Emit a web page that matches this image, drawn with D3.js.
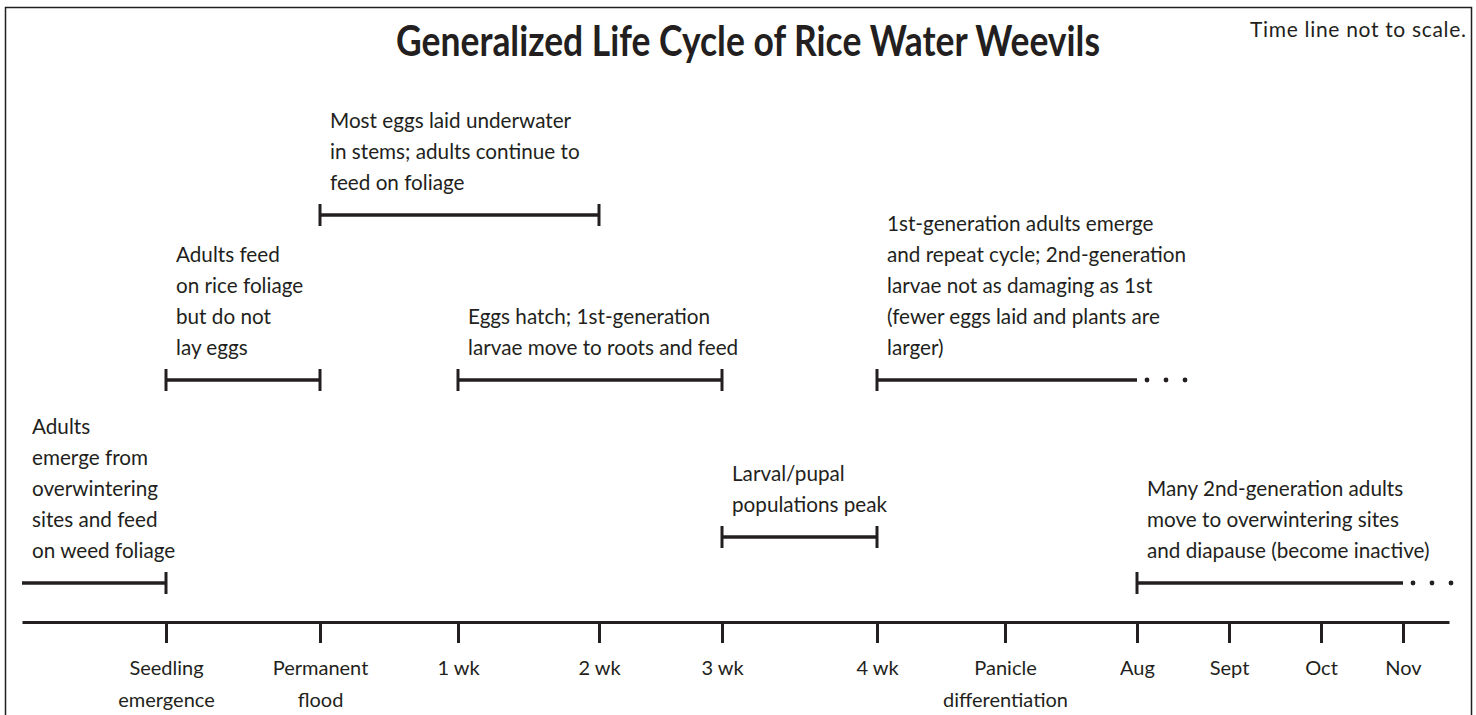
<!DOCTYPE html>
<html>
<head>
<meta charset="utf-8">
<script src="https://cdn.jsdelivr.net/npm/d3@7"></script>
<style>
  body { margin: 0; background: #fff; }
  svg text { font-family: Lato, "Open Sans", sans-serif; fill: #231f20; }
</style>
</head>
<body>
<div id="chart"></div>
<script>
// ---- data ----
const title = 'Generalized Life Cycle of Rice Water Weevils'
const scaleNote = 'Time line not to scale.'

// time line ticks (not to scale), index = position on the time line
const tickLabels = [
  'Seedling\nemergence', 'Permanent\nflood', '1 wk', '2 wk', '3 wk', '4 wk',
  'Panicle\ndifferentiation', 'Aug', 'Sept', 'Oct', 'Nov'
]

// life stages: start/end on the tick index, lane = which row it sits in
const stageStart = [-1, 0, 1, 2, 4, 5, 7]
const stageEnd = [0, 1, 3, 4, 5, 7, 10]
const stageLane = ['bottom', 'mid', 'top', 'mid', 'low', 'mid', 'bottom']
const stageOngoing = [false, false, false, false, false, true, true]
const stageText = [
  ['Adults', 'emerge from', 'overwintering', 'sites and feed', 'on weed foliage'],
  ['Adults feed', 'on rice foliage', 'but do not', 'lay eggs'],
  ['Most eggs laid underwater', 'in stems; adults continue to', 'feed on foliage'],
  ['Eggs hatch; 1st-generation', 'larvae move to roots and feed'],
  ['Larval/pupal', 'populations peak'],
  ['1st-generation adults emerge', 'and repeat cycle; 2nd-generation',
    'larvae not as damaging as 1st', '(fewer eggs laid and plants are', 'larger)'],
  ['Many 2nd-generation adults', 'move to overwintering sites',
    'and diapause (become inactive)']
]

// ---- layout ----
const width = 1476
const height = 715
const ink = '#231f20'
const lineH = 31

const svg = d3.select('#chart')
  .append('svg')
  .attr('width', width)
  .attr('height', height)

// frame
svg.append('rect')
  .attr('x', 5.5)
  .attr('y', 7.5)
  .attr('width', 1466)
  .attr('height', 730)
  .attr('fill', 'none')
  .attr('stroke', ink)
  .attr('stroke-width', 1.5)

// x: piecewise scale because the time line is not to scale
const x = d3.scaleLinear()
  .domain([-1, 0, 1, 2, 3, 4, 5, 6, 7, 8, 9, 10, 11])
  .range([22, 166, 320, 458, 599, 722, 877, 1005, 1137, 1229, 1321, 1403, 1449])

const y = d3.scaleOrdinal()
  .domain(['top', 'mid', 'low', 'bottom'])
  .range([215, 380, 537, 583])

const axisY = 622

// title + note
svg.append('text')
  .attr('x', 748)
  .attr('y', 56)
  .attr('text-anchor', 'middle')
  .attr('font-size', 42)
  .attr('font-weight', 700)
  .attr('textLength', 704)
  .attr('lengthAdjust', 'spacingAndGlyphs')
  .text(title)

svg.append('text')
  .attr('x', 1466)
  .attr('y', 37)
  .attr('text-anchor', 'end')
  .attr('font-size', 21)
  .attr('textLength', 216)
  .attr('lengthAdjust', 'spacing')
  .text(scaleNote)

// axis
const axis = d3.axisBottom(x)
  .tickValues(d3.range(tickLabels.length))
  .tickSize(21)
  .tickSizeOuter(0)
  .tickFormat(i => tickLabels[i])

const gAxis = svg.append('g')
  .attr('transform', 'translate(0,' + axisY + ')')
  .call(axis)

gAxis.select('.domain')
  .attr('stroke', ink)
  .attr('stroke-width', 3)
gAxis.selectAll('.tick line')
  .attr('stroke', ink)
  .attr('stroke-width', 3)
gAxis.selectAll('.tick text')
  .attr('font-size', 20)
  .attr('fill', ink)
  .attr('y', 53)
  .attr('dy', null)
  .each(function (i) {
    const t = d3.select(this)
    const parts = tickLabels[i].split('\n')
    t.text(null)
    parts.forEach((p, k) => {
      t.append('tspan')
        .attr('x', 0)
        .attr('dy', k === 0 ? 0 : 32)
        .text(p)
    })
  })

// stage bars
const stages = stageStart.map((s, i) => ({
  start: s,
  end: stageEnd[i],
  lane: stageLane[i],
  ongoing: stageOngoing[i],
  text: stageText[i]
}))

const g = svg.selectAll('g.stage')
  .data(stages)
  .enter()
  .append('g')
  .attr('class', 'stage')

g.append('line')
  .attr('x1', d => x(d.start))
  .attr('x2', d => x(d.end))
  .attr('y1', d => y(d.lane))
  .attr('y2', d => y(d.lane))
  .attr('stroke', ink)
  .attr('stroke-width', 3.5)

// end caps (first stage runs in from the left edge, so no left cap)
g.filter(d => d.start >= 0)
  .append('line')
  .attr('x1', d => x(d.start))
  .attr('x2', d => x(d.start))
  .attr('y1', d => y(d.lane) - 11)
  .attr('y2', d => y(d.lane) + 11)
  .attr('stroke', ink)
  .attr('stroke-width', 3)

g.filter(d => !d.ongoing)
  .append('line')
  .attr('x1', d => x(d.end))
  .attr('x2', d => x(d.end))
  .attr('y1', d => y(d.lane) - 11)
  .attr('y2', d => y(d.lane) + 11)
  .attr('stroke', ink)
  .attr('stroke-width', 3)

// dots for stages that carry on
g.filter(d => d.ongoing)
  .selectAll('circle')
  .data(d => [10, 29, 48].map(o => ({ cx: x(d.end) + o, cy: y(d.lane) })))
  .enter()
  .append('circle')
  .attr('cx', d => d.cx)
  .attr('cy', d => d.cy)
  .attr('r', 2.4)
  .attr('fill', ink)

// annotation text above each bar
g.append('text')
  .attr('font-size', 20.7)
  .each(function (d) {
    const t = d3.select(this)
    const n = d.text.length
    d.text.forEach((line, k) => {
      t.append('tspan')
        .attr('x', x(d.start) + 10)
        .attr('y', y(d.lane) - 25 - (n - 1 - k) * lineH)
        .text(line)
    })
  })
</script>
</body>
</html>
